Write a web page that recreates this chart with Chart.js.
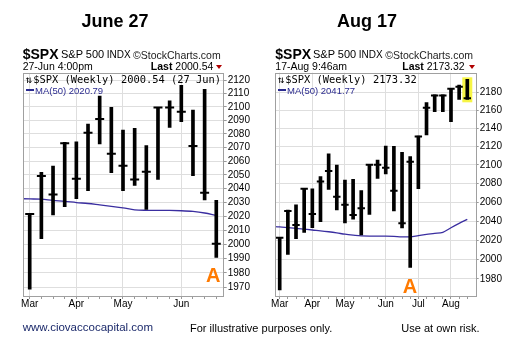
<!DOCTYPE html>
<html><head><meta charset="utf-8">
<script src="https://cdn.jsdelivr.net/npm/chart.js@4/dist/chart.umd.min.js"></script>
<style>
html,body{margin:0;padding:0;background:#fff;width:524px;height:346px;overflow:hidden;font-family:"Liberation Sans",Arial,sans-serif;}
canvas{position:absolute;left:0;top:0;}
.t{position:absolute;white-space:nowrap;line-height:1;color:#000;}
.m{font-family:"DejaVu Sans Mono",monospace;font-size:10.4px;}
.tri{position:absolute;width:0;height:0;border-left:3px solid transparent;border-right:3px solid transparent;border-top:4px solid #b00000;}
.dash{position:absolute;width:8px;height:2px;background:#2b2b8f;}
.A{position:absolute;line-height:1;font-size:20px;font-weight:bold;color:#ff7a00;}
</style></head><body>
<canvas id="c1" width="524" height="346"></canvas>
<canvas id="c2" width="524" height="346"></canvas>

<div class="t" style="left:65px;width:100px;text-align:center;top:11.8px;font-size:18px;font-weight:bold">June 27</div>
<div class="t" style="left:317px;width:100px;text-align:center;top:11.8px;font-size:18px;font-weight:bold">Aug 17</div>

<div class="t" style="left:22.7px;top:46.5px;font-size:14px;font-weight:bold">$SPX</div>
<div class="t" style="left:61px;top:49px;font-size:11px">S&amp;P 500</div>
<div class="t" style="left:106.7px;top:49.8px;font-size:10px">INDX</div>
<div class="t" style="left:133px;top:49.5px;font-size:10.5px;color:#222">©StockCharts.com</div>
<div class="t" style="left:22.7px;top:60.6px;font-size:10.5px">27-Jun 4:00pm</div>
<div class="t" style="right:310.7px;top:60.6px;font-size:10.5px"><b>Last</b> 2000.54</div>
<div class="tri" style="left:216px;top:65px"></div>
<div class="t m" style="left:25.7px;top:73.7px">⇅</div>
<div class="t m" style="left:33.3px;top:73.7px">$SPX (Weekly) 2000.54 (27 Jun)</div>
<div class="dash" style="left:26px;top:89px"></div>
<div class="t" style="left:35px;top:86px;font-size:9.5px;color:#2b2b8f">MA(50) 2020.79</div>
<div class="A" style="left:206px;top:264.8px">A</div>

<div class="t" style="left:275.3px;top:46.5px;font-size:14px;font-weight:bold">$SPX</div>
<div class="t" style="left:313px;top:49px;font-size:11px">S&amp;P 500</div>
<div class="t" style="left:358.7px;top:49.8px;font-size:10px">INDX</div>
<div class="t" style="left:385.3px;top:49.5px;font-size:10.5px;color:#222">©StockCharts.com</div>
<div class="t" style="left:275.3px;top:60.6px;font-size:10.5px">17-Aug 9:46am</div>
<div class="t" style="right:59.3px;top:60.6px;font-size:10.5px"><b>Last</b> 2173.32</div>
<div class="tri" style="left:468.7px;top:65px"></div>
<div class="t m" style="left:278px;top:73.7px">⇅</div>
<div class="t m" style="left:285.3px;top:73.7px">$SPX (Weekly) 2173.32</div>
<div class="dash" style="left:278px;top:89px"></div>
<div class="t" style="left:287px;top:86px;font-size:9.5px;color:#2b2b8f">MA(50) 2041.77</div>
<div class="A" style="left:402.7px;top:275.8px">A</div>

<div class="t" style="left:22.7px;top:322.3px;font-size:11.5px;color:#1c2a6b">www.ciovaccocapital.com</div>
<div class="t" style="left:190px;top:322.7px;font-size:11px">For illustrative purposes only.</div>
<div class="t" style="left:401.3px;top:322.7px;font-size:11px">Use at own risk.</div>

<script>
// ---------- Left chart (June 27) ----------
const weeksA = ['7 Mar','14 Mar','21 Mar','28 Mar','4 Apr','11 Apr','18 Apr','25 Apr','2 May','9 May','16 May','23 May','30 May','6 Jun','13 Jun','20 Jun','27 Jun'];
const highA  = [2021.8,2051.8,2056.4,2073.8,2074.2,2087.2,2108.0,2099.6,2082.8,2084.0,2071.3,2099.6,2104.5,2116.0,2097.6,2113.0,2031.5];
const lowA   = [1968.6,2004.2,2021.1,2027.0,2032.8,2038.6,2072.5,2051.6,2038.6,2042.4,2025.1,2046.7,2084.8,2089.0,2049.4,2031.8,1991.0];
const closeA = [2021.8,2049.2,2035.7,2073.0,2047.2,2080.8,2090.9,2065.4,2056.7,2046.7,2052.3,2099.4,2099.4,2096.4,2071.0,2037.1,2000.5];
// MA(50), first value is the week before the first bar (clipped at the frame)
const maA    = [2032.8,2032.6,2032.4,2031.5,2030.9,2030.0,2029.3,2028.3,2027.3,2026.2,2024.8,2024.4,2024.3,2024.3,2024.1,2023.6,2022.5,2020.8];
const yTicksA = [1970,1980,1990,2000,2010,2020,2030,2040,2050,2060,2070,2080,2090,2100,2110,2120];
const monthIdxA = [0,4,8,13];
const monthLabA = ['Mar','Apr','May','Jun'];

// ---------- Right chart (Aug 17) ----------
const weeksB = ['7 Mar','14 Mar','21 Mar','28 Mar','4 Apr','11 Apr','18 Apr','25 Apr','2 May','9 May','16 May','23 May','30 May','6 Jun','13 Jun','20 Jun','27 Jun','4 Jul','11 Jul','18 Jul','25 Jul','1 Aug','8 Aug','15 Aug'];
const highB  = [2022.6,2051.7,2057.0,2074.7,2074.2,2087.2,2111.8,2099.8,2083.6,2084.3,2072.2,2100.5,2105.2,2120.5,2120.0,2113.6,2108.8,2131.4,2168.4,2177.0,2177.0,2184.5,2188.2,2194.6];
const lowB   = [1968.8,2005.3,2021.5,2028.2,2033.1,2039.4,2073.6,2051.7,2038.0,2042.0,2025.4,2047.1,2085.4,2090.1,2050.6,2032.8,1991.9,2074.2,2132.5,2158.4,2158.4,2147.3,2172.1,2172.1];
const closeB = [2022.6,2050.6,2035.9,2074.2,2047.5,2081.9,2093.3,2065.8,2057.3,2046.4,2053.5,2100.0,2100.0,2096.9,2072.2,2037.7,2103.4,2130.9,2162.8,2176.5,2176.5,2184.0,2186.3,2173.3];
const maB    = [2034.3,2033.8,2033.1,2032.4,2031.5,2030.6,2029.8,2028.8,2027.6,2026.2,2025.2,2024.4,2024.3,2024.3,2024.3,2024.0,2023.4,2023.5,2024.8,2026.0,2027.0,2028.2,2033.0,2037.5,2041.8];
const yTicksB = [1980,2000,2020,2040,2060,2080,2100,2120,2140,2160,2180];
const monthIdxB = [0,4,8,13,17,21];
const monthLabB = ['Mar','Apr','May','Jun','Jul','Aug'];

Chart.defaults.font.family = '"Liberation Sans", Arial, sans-serif';
Chart.defaults.color = '#000';

const GRID = '#dedede';
const FRAME = '#a0a0a0';
const MA_COLOR = '#3a2ea0';

const framePlugin = {
  id: 'frame',
  afterDatasetsDraw(chart) {
    const a = chart.chartArea, c = chart.ctx;
    const l = Math.round(a.left), t = Math.round(a.top), r = Math.round(a.right), b = Math.round(a.bottom);
    c.save();
    c.strokeStyle = FRAME; c.lineWidth = 1;
    c.strokeRect(l + 0.5, t + 0.5, r - l, b - t);
    c.restore();
  }
};

function makeChart(id, o) {
  const n = o.weeks.length;
  const highlight = {
    id: 'hl',
    beforeDatasetsDraw(chart) {
      if (!o.highlightLast) return;
      const xs = chart.scales.x, ys = chart.scales.y, c = chart.ctx;
      const i = n - 1;
      const x = xs.getPixelForValue(i);
      const y1 = ys.getPixelForValue(o.high[i]) - 2;
      const y2 = ys.getPixelForValue(o.low[i]) + 3;
      c.save(); c.fillStyle = '#f7f545'; c.fillRect(x - 5, y1, 10, y2 - y1); c.restore();
    }
  };
  return new Chart(document.getElementById(id), {
    type: 'bar',
    data: {
      datasets: [
        {
          type: 'line', label: 'MA(50)',
          data: o.ma.map((v, i) => ({ x: i - 1, y: v })),
          borderColor: MA_COLOR, borderWidth: 1.3, pointRadius: 0,
          cubicInterpolationMode: 'monotone', order: 3
        },
        {
          type: 'bar', label: 'Range',
          data: o.high.map((h, i) => ({ x: i, y: [o.low[i], h] })),
          backgroundColor: '#000', barThickness: 3, order: 2
        },
        {
          type: 'line', label: 'Close', showLine: false,
          data: o.close.map((v, i) => ({ x: i, y: v })),
          pointStyle: 'line', pointRadius: o.tickR, borderColor: '#000', borderWidth: 2,
          pointBorderColor: '#000', pointBorderWidth: 2, order: 1
        }
      ]
    },
    options: {
      responsive: false, animation: false, devicePixelRatio: 1,
      layout: { padding: o.pad },
      plugins: { legend: { display: false }, tooltip: { enabled: false } },
      scales: {
        x: {
          type: 'linear', min: o.xmin, max: o.xmax, offset: false,
          afterBuildTicks: s => { s.ticks = o.weeks.map((w, i) => ({ value: i })); },
          afterFit: s => { s.height = 20; },
          grid: {
            offset: false,
            color: c => o.monthIdx.includes(c.tick && c.tick.value) ? GRID : 'rgba(0,0,0,0)',
            tickColor: '#999', tickLength: 3, lineWidth: 1
          },
          border: { display: false },
          ticks: {
            autoSkip: false, maxRotation: 0, padding: -1,
            font: { size: 10 },
            callback: v => { const k = o.monthIdx.indexOf(v); return k >= 0 ? o.monthLab[k] : ''; }
          }
        },
        y: {
          type: 'logarithmic', position: 'right', min: o.ymin, max: o.ymax,
          afterBuildTicks: s => { s.ticks = o.yTicks.map(v => ({ value: v })); },
          afterFit: s => { s.width = 30; },
          grid: { color: GRID, tickColor: '#999', tickLength: o.ytl, lineWidth: 1 },
          border: { display: false },
          ticks: { autoSkip: false, padding: 1, font: { size: 10 }, callback: v => String(v) }
        }
      }
    },
    plugins: [highlight, framePlugin]
  });
}

makeChart('c1', {
  weeks: weeksA, high: highA, low: lowA, close: closeA, ma: maA,
  yTicks: yTicksA, monthIdx: monthIdxA, monthLab: monthLabA,
  xmin: -0.55, xmax: 16.55, ymin: 1963.9, ymax: 2125.3,
  pad: { left: 23.3, top: 73, right: 524 - 222.7 - 30, bottom: 30 },
  tickR: 4.5, ytl: 4, highlightLast: false
});
makeChart('c2', {
  weeks: weeksB, high: highB, low: lowB, close: closeB, ma: maB,
  yTicks: yTicksB, monthIdx: monthIdxB, monthLab: monthLabB,
  xmin: -0.54, xmax: 24.03, ymin: 1962.7, ymax: 2202.1,
  pad: { left: 275.3, top: 72.7, right: 524 - 475.7 - 30, bottom: 30 },
  tickR: 3.7, ytl: 3, highlightLast: true
});
</script>
</body></html>
